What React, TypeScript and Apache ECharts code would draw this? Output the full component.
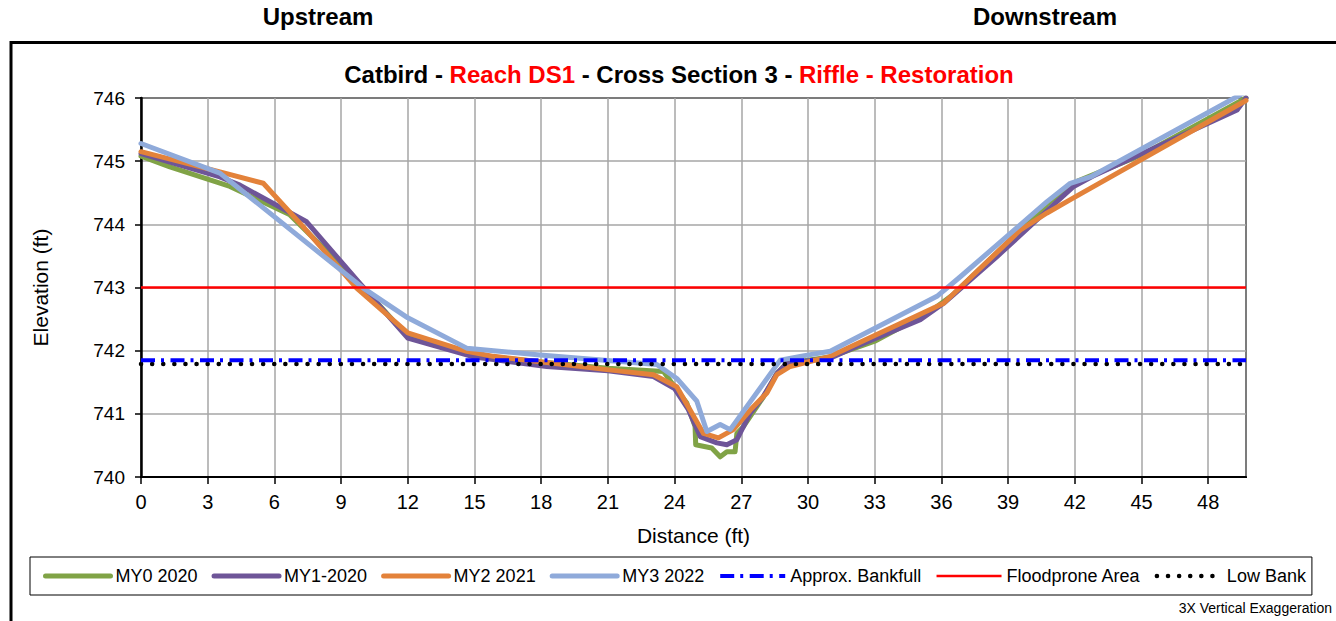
import React, { useEffect, useRef } from "react";
import * as echarts from "echarts";

// ---------- data ----------
const xMin = 0;
const xMax = 49.7;
const xStep = 3;
const yMin = 740;
const yMax = 746;
const yStep = 1;

const my0_2020: [number, number][] = [
  [0, 745.08], [1.3, 744.91], [4.0, 744.6], [6.7, 744.15], [10, 743.0], [12, 742.22],
  [15, 741.93], [18, 741.82], [21, 741.72], [23.5, 741.67], [24.0, 741.43], [24.55, 741.17],
  [24.92, 740.8], [24.95, 740.51], [25.67, 740.46], [26.05, 740.32], [26.35, 740.4],
  [26.72, 740.4], [26.8, 740.69], [27.1, 740.8], [28.0, 741.27], [28.6, 741.64],
  [29.05, 741.8], [31, 741.9], [33, 742.15], [35.5, 742.62], [36.5, 742.88], [38.5, 743.55],
  [40.75, 744.32], [41.65, 744.58], [42.1, 744.68], [45, 745.1], [49.7, 746.0],
];
const my1_2020: [number, number][] = [
  [0, 745.12], [3.55, 744.75], [4.45, 744.62], [7.45, 744.04], [10, 743.0], [12, 742.2],
  [15, 741.9], [18.25, 741.75], [21, 741.68], [23.05, 741.59], [24.0, 741.4], [24.6, 741.08],
  [25.15, 740.64], [25.9, 740.54], [26.35, 740.51], [26.8, 740.59], [27.4, 741.01],
  [27.98, 741.27], [28.6, 741.64], [29.05, 741.8], [31, 741.88], [32.2, 742.07],
  [35.05, 742.49], [36.1, 742.75], [38.5, 743.49], [40.45, 744.12], [41.95, 744.6],
  [42.8, 744.76], [49.3, 745.81], [49.7, 746.0],
];
const my2_2021: [number, number][] = [
  [0, 745.15], [3.55, 744.83], [5.5, 744.65], [7.3, 743.96], [9.7, 742.99], [12, 742.28],
  [14.65, 741.99], [15.85, 741.91], [20.95, 741.7], [23.05, 741.62], [24.1, 741.43],
  [25.3, 740.69], [25.97, 740.62], [26.64, 740.75], [27.4, 741.06], [28.15, 741.33],
  [28.6, 741.62], [29.2, 741.75], [31, 741.91], [36.1, 742.75], [39.55, 743.91],
  [40.75, 744.18], [41.8, 744.39], [49.7, 745.96],
];
const my3_2022: [number, number][] = [
  [0, 745.28], [3.55, 744.81], [4.3, 744.6], [10, 742.99], [12, 742.52], [14.65, 742.04],
  [17.95, 741.93], [23.2, 741.78], [24.1, 741.56], [25.0, 741.2], [25.45, 740.72],
  [26.05, 740.83], [26.5, 740.75], [28.75, 741.85], [29.65, 741.91], [31.0, 741.99],
  [35.8, 742.86], [36.85, 743.17], [40.75, 744.36], [41.8, 744.65], [42.7, 744.75],
  [49.7, 746.1],
];
const floodproneElev = 743.0;
const bankfullElev = 741.85;
const lowBankElev = 741.79;

const seriesNames = ["MY0 2020", "MY1-2020", "MY2 2021", "MY3 2022"];
const seriesData = [my0_2020, my1_2020, my2_2021, my3_2022];
const seriesColors = ["#80A346", "#6E5598", "#E3823A", "#8FAADA"];

const FONT = "'Liberation Sans', Arial, sans-serif";

export default function App() {
  const ref = useRef<HTMLDivElement>(null);
  useEffect(() => {
    document.body.style.margin = "0";
    const chart = echarts.init(ref.current!, null, { renderer: "svg" });
    const dataSeries = seriesNames.map((name, i) => ({
      name,
      type: "line",
      data: seriesData[i],
      symbol: "none",
      clip: true,
      itemStyle: { color: seriesColors[i] },
      lineStyle: { color: seriesColors[i], width: 5, cap: "round", join: "round" },
      emphasis: { disabled: true },
      z: 2 + i,
    }));
    const hLine = (v: number) => [[xMin, v], [xMax, v]];
    chart.setOption({
      animation: false,
      textStyle: { fontFamily: FONT },
      title: [
        {
          text: "Upstream", left: 318, top: 4, textAlign: "center", padding: 0,
          textStyle: { fontSize: 24, fontWeight: "bold", color: "#000", fontFamily: FONT },
        },
        {
          text: "Downstream", left: 1045, top: 4, textAlign: "center", padding: 0,
          textStyle: { fontSize: 24, fontWeight: "bold", color: "#000", fontFamily: FONT },
        },
        {
          text: "{k|Catbird - }{r|Reach DS1}{k| - Cross Section 3 - }{r|Riffle - Restoration}",
          left: 679, top: 60, textAlign: "center", padding: 0,
          textStyle: {
            fontFamily: FONT,
            rich: {
              k: { fontSize: 24, fontWeight: "bold", color: "#000", lineHeight: 28, fontFamily: FONT },
              r: { fontSize: 24, fontWeight: "bold", color: "#FF0000", lineHeight: 28, fontFamily: FONT },
            },
          },
        },
      ],
      grid: {
        left: 141, right: 90, top: 98, bottom: 144,
        show: true, borderColor: "#000", borderWidth: 2,
        outerBoundsMode: "none",
      },
      xAxis: {
        type: "value", min: xMin, max: xMax, interval: xStep,
        axisLine: { show: true, lineStyle: { color: "#000", width: 2 } },
        axisTick: { show: true, length: 7, lineStyle: { color: "#000", width: 1.5 } },
        axisLabel: { fontSize: 20, color: "#000", margin: 15, showMaxLabel: false, fontFamily: FONT },
        splitLine: { show: true, lineStyle: { color: "#A6A6A6", width: 1.5 } },
        name: "Distance (ft)", nameLocation: "middle", nameGap: 48,
        nameTextStyle: { fontSize: 21, color: "#000", fontFamily: FONT },
      },
      yAxis: {
        type: "value", min: yMin, max: yMax, interval: yStep,
        axisLine: { show: true, lineStyle: { color: "#000", width: 2.5 } },
        axisTick: { show: true, length: 6, lineStyle: { color: "#000", width: 1.5 } },
        axisLabel: { fontSize: 19, color: "#000", margin: 16, fontFamily: FONT },
        splitLine: { show: true, lineStyle: { color: "#A6A6A6", width: 1.5 } },
        name: "Elevation (ft)", nameLocation: "middle", nameGap: 90,
        nameTextStyle: { fontSize: 21, color: "#000", fontFamily: FONT },
      },
      legend: {
        left: 30, top: 557,
        padding: [10, 6, 10, 13], itemGap: 14, itemWidth: 65, itemHeight: 18,
        borderColor: "#000", borderWidth: 1,
        textStyle: { fontSize: 18, color: "#000", fontFamily: FONT },
        itemStyle: { opacity: 0 },
        lineStyle: { width: "inherit" },
        data: [...seriesNames, "Approx. Bankfull", "Floodprone Area", "Low Bank"],
        selectedMode: false,
      },
      series: [
        ...dataSeries,
        {
          name: "Floodprone Area", type: "line", data: hLine(floodproneElev), symbol: "none",
          itemStyle: { color: "#FF0000" },
          lineStyle: { color: "#FF0000", width: 2.5 }, z: 10, emphasis: { disabled: true },
        },
        {
          name: "Low Bank", type: "line", data: hLine(lowBankElev), symbol: "none",
          itemStyle: { color: "#000" },
          lineStyle: { color: "#000", width: 4.5, type: [0.1, 11], cap: "round" }, z: 11,
          emphasis: { disabled: true },
        },
        {
          name: "Approx. Bankfull", type: "line", data: hLine(bankfullElev), symbol: "none",
          itemStyle: { color: "#0000FF" },
          lineStyle: { color: "#0000FF", width: 4, type: [14, 6, 3, 6.5], cap: "butt" }, z: 12,
          emphasis: { disabled: true },
        },
      ],
      graphic: [
        {
          type: "rect", silent: true, z: -1,
          shape: { x: 11, y: 42.5, width: 1420, height: 700 },
          style: { fill: "none", stroke: "#000", lineWidth: 3 },
        },
        {
          type: "text", x: 1332, y: 608, silent: true,
          style: {
            text: "3X Vertical Exaggeration", align: "right", verticalAlign: "middle",
            fontSize: 14, fill: "#000", fontFamily: FONT,
          },
        },
      ],
    });
    return () => chart.dispose();
  }, []);
  return (
    <div
      ref={ref}
      style={{ position: "absolute", left: 0, top: 0, width: 1336, height: 621 }}
    />
  );
}
